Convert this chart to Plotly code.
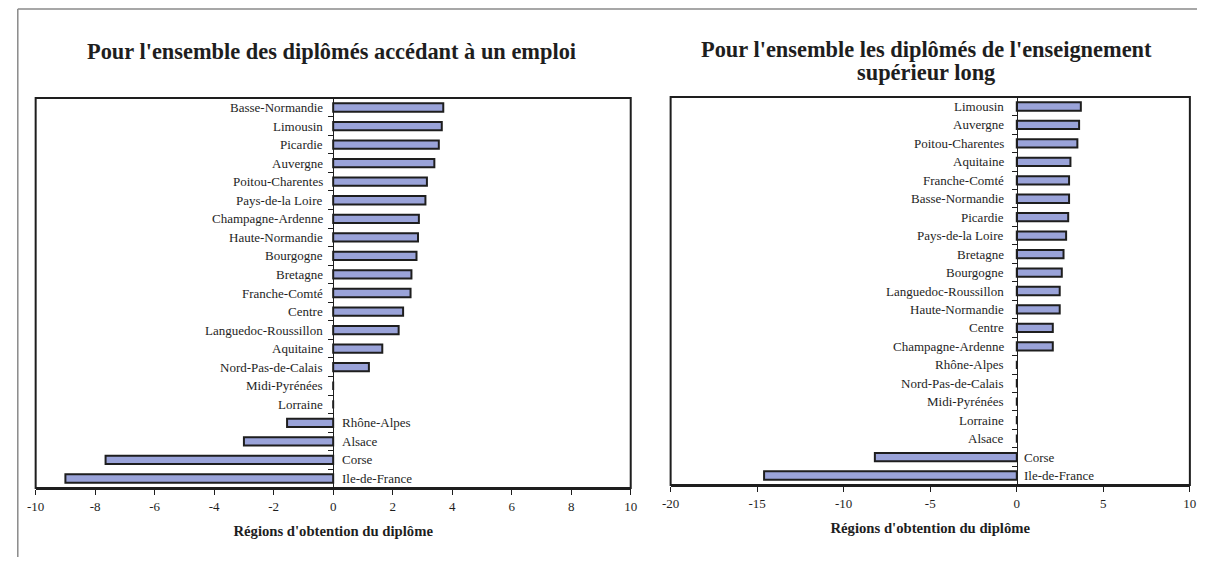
import plotly.graph_objects as go

# Left chart data (top to bottom)
regions_left = ["Basse-Normandie", "Limousin", "Picardie", "Auvergne", "Poitou-Charentes",
                "Pays-de-la Loire", "Champagne-Ardenne", "Haute-Normandie", "Bourgogne",
                "Bretagne", "Franche-Comté", "Centre", "Languedoc-Roussillon", "Aquitaine",
                "Nord-Pas-de-Calais", "Midi-Pyrénées", "Lorraine", "Rhône-Alpes", "Alsace",
                "Corse", "Ile-de-France"]
values_left = [3.7, 3.65, 3.55, 3.4, 3.15, 3.1, 2.88, 2.85, 2.8, 2.63, 2.6, 2.35, 2.2, 1.65,
               1.2, 0, 0, -1.55, -3.0, -7.65, -9.0]

# Right chart data (top to bottom)
regions_right = ["Limousin", "Auvergne", "Poitou-Charentes", "Aquitaine", "Franche-Comté",
                 "Basse-Normandie", "Picardie", "Pays-de-la Loire", "Bretagne", "Bourgogne",
                 "Languedoc-Roussillon", "Haute-Normandie", "Centre", "Champagne-Ardenne",
                 "Rhône-Alpes", "Nord-Pas-de-Calais", "Midi-Pyrénées", "Lorraine", "Alsace",
                 "Corse", "Ile-de-France"]
values_right = [3.7, 3.6, 3.5, 3.1, 3.02, 3.02, 2.97, 2.85, 2.7, 2.6, 2.48, 2.48, 2.08, 2.08,
                0, 0, 0, 0, 0, -8.2, -14.6]

# Axis ticks
left_tickvals = [-10, -8, -6, -4, -2, 0, 2, 4, 6, 8, 10]
left_ticktext = ["-10", "-8", "-6", "-4", "-2", "0", "2", "4", "6", "8", "10"]
right_tickvals = [-20, -15, -10, -5, 0, 5, 10]
right_ticktext = ["-20", "-15", "-10", "-5", "0", "5", "10"]

title_left = "Pour l'ensemble des diplômés accédant à un emploi"
title_right_1 = "Pour l'ensemble les diplômés de l'enseignement"
title_right_2 = "supérieur long"
xtitle = "Régions d'obtention du diplôme"

left_range = [-10, 10]
right_range = [-20, 10]

W, H = 1196, 549
FONT = "Liberation Serif"
BAR = "#9aa3d9"
INK = "#1e1e1e"

# plot-area pixel boxes (reference picture coordinates)
lx0, lx1, ly0, ly1 = 35, 631.5, 98, 488
rx0, rx1, ry0, ry1 = 671.5, 1192, 97, 485

# mapping from figure pixels to picture pixels observed in the rendering
SX, OX, OY = 0.989, 16.3, 8


def px(x):
    return ((x - OX) / SX) / W


def py(y):
    return 1 - (y - OY) / H


def zero_pos(dom, rng):
    return dom[0] + (0 - rng[0]) / (rng[1] - rng[0]) * (dom[1] - dom[0])


fig = go.Figure()
fig.add_trace(go.Bar(y=regions_left, x=values_left, orientation="h", width=0.45,
                     marker=dict(color=BAR, line=dict(color=INK, width=2)),
                     xaxis="x", yaxis="y", showlegend=False))
fig.add_trace(go.Bar(y=regions_right, x=values_right, orientation="h", width=0.45,
                     marker=dict(color=BAR, line=dict(color=INK, width=2)),
                     xaxis="x2", yaxis="y2", showlegend=False))

lxd, lyd = [px(lx0), px(lx1)], [py(ly1), py(ly0)]
rxd, ryd = [px(rx0), px(rx1)], [py(ry1), py(ry0)]

xcommon = dict(showgrid=False, zeroline=False, ticks="outside", ticklen=5, tickwidth=1,
               tickcolor=INK, showline=True, linecolor=INK, linewidth=2,
               tickfont=dict(family=FONT, size=13, color=INK),
               title_font=dict(family=FONT, size=14.7, color=INK))
ycommon = dict(type="category", autorange="reversed", showticklabels=False,
               tickson="boundaries", ticks="outside", ticklen=5, tickcolor=INK,
               showline=True, linecolor=INK, linewidth=1, showgrid=False, anchor="free")

fig.update_layout(
    width=W, height=H, margin=dict(l=0, r=0, t=0, b=0),
    paper_bgcolor="white", plot_bgcolor="white",
    xaxis=dict(domain=lxd, range=left_range, tickvals=left_tickvals, ticktext=left_ticktext,
               anchor="y", title=dict(text="<b>" + xtitle + "</b>", standoff=13), **xcommon),
    yaxis=dict(domain=lyd, position=zero_pos(lxd, left_range), **ycommon),
    xaxis2=dict(domain=rxd, range=right_range, tickvals=right_tickvals, ticktext=right_ticktext,
                anchor="y2", title=dict(text="<b>" + xtitle + "</b>", standoff=13), **xcommon),
    yaxis2=dict(domain=ryd, position=zero_pos(rxd, right_range), **ycommon),
)

shapes = []
for xr, yr in (("x domain", "y domain"), ("x2 domain", "y2 domain")):
    shapes.append(dict(type="rect", xref=xr, yref=yr, x0=0, x1=1, y0=0, y1=1,
                       line=dict(color=INK, width=2), fillcolor="rgba(0,0,0,0)"))
# outer frame (top and left edges visible)
shapes.append(dict(type="line", xref="paper", yref="paper", x0=0.8 / W, x1=1, y0=py(9), y1=py(9),
                   line=dict(color="#8a8a8a", width=1.5)))
shapes.append(dict(type="line", xref="paper", yref="paper", x0=0.8 / W, x1=0.8 / W, y0=0, y1=py(9),
                   line=dict(color="#8a8a8a", width=1.5)))
fig.update_layout(shapes=shapes)

anns = []
for regs, vals, xr, yr, pos_shift, neg_shift in (
        (regions_left, values_left, "x", "y", -8, 7),
        (regions_right, values_right, "x2", "y2", -11, 5)):
    for r, v in zip(regs, vals):
        neg = v < 0
        anns.append(dict(x=0, y=r, xref=xr, yref=yr, text=r, showarrow=False,
                         xanchor="left" if neg else "right",
                         xshift=neg_shift if neg else pos_shift,
                         font=dict(family=FONT, size=13, color=INK)))

tfont = dict(family=FONT, size=22.4, color=INK)
anns.append(dict(x=px(332), y=py(51), xref="paper", yref="paper",
                 text="<b>" + title_left + "</b>", showarrow=False,
                 xanchor="center", yanchor="middle", font=tfont))
anns.append(dict(x=px(927.5), y=py(49), xref="paper", yref="paper",
                 text="<b>" + title_right_1 + "</b>", showarrow=False,
                 xanchor="center", yanchor="middle", font=tfont))
anns.append(dict(x=px(927.5), y=py(73), xref="paper", yref="paper",
                 text="<b>" + title_right_2 + "</b>", showarrow=False,
                 xanchor="center", yanchor="middle", font=tfont))
fig.update_layout(annotations=anns)

fig.write_html("out.html")
